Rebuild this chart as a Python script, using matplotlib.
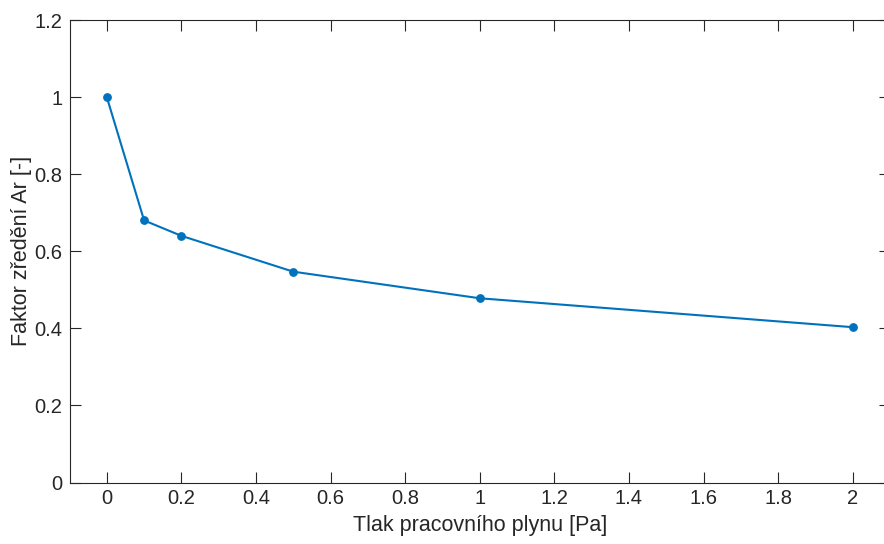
import matplotlib
matplotlib.use("Agg")
import matplotlib.pyplot as plt

pressure = [0, 0.1, 0.2, 0.5, 1, 2]
factor = [1.0, 0.68, 0.64, 0.547, 0.478, 0.403]
xticks = [0, 0.2, 0.4, 0.6, 0.8, 1, 1.2, 1.4, 1.6, 1.8, 2]
yticks = [0, 0.2, 0.4, 0.6, 0.8, 1, 1.2]

plt.rcParams['font.family'] = ['Liberation Sans', 'DejaVu Sans']
W, H = 884, 544
fig = plt.figure(figsize=(W/100, H/100), dpi=100)
ax = fig.add_axes([69.5/W, (H-482.5)/H, 820.5/W, 462.5/H])
ax.plot(pressure, factor, '-o', color='#0072BD', lw=1.5, ms=5.3)
ax.set_xlim(-0.1, 2.1)
ax.set_ylim(0, 1.2)
ax.set_xticks(xticks)
ax.set_xticklabels([f"{v:g}" for v in xticks])
ax.set_yticks(yticks)
ax.set_yticklabels([f"{v:g}" for v in yticks])
ax.tick_params(direction='in', length=8, width=0.8, colors='#262626', labelsize=14.5,
               top=True, right=True, pad=5)
for s in ax.spines.values():
    s.set_color('#262626')
    s.set_linewidth(0.8)
ax.set_xlabel('Tlak pracovního plynu [Pa]', fontsize=15.5, color='#262626', labelpad=5)
ax.set_ylabel('Faktor zředění Ar [-]', fontsize=15.5, color='#262626', labelpad=2)
fig.savefig('out.png', dpi=100)
